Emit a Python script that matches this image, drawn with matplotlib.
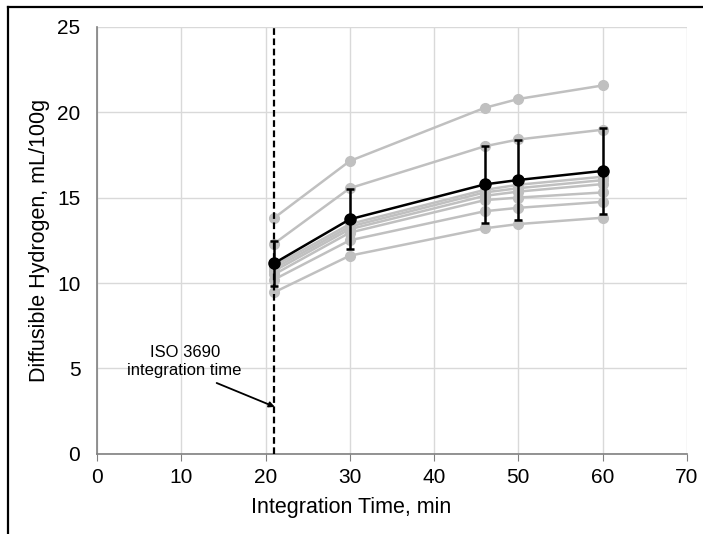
import matplotlib.pyplot as plt
from matplotlib.lines import Line2D

plt.rcParams['font.family'] = ['Liberation Sans', 'DejaVu Sans']

# Integration times (min)
times = [21, 30, 46, 50, 60]

# Individual samples (grey)
samples = [
    [13.8, 17.14, 20.25, 20.77, 21.56],
    [12.3, 15.55, 18.0, 18.4, 18.97],
    [11.0, 13.45, 15.45, 15.75, 16.22],
    [10.85, 13.3, 15.3, 15.55, 16.02],
    [10.7, 13.15, 15.1, 15.35, 15.79],
    [10.5, 12.95, 14.85, 15.0, 15.3],
    [10.2, 12.5, 14.2, 14.4, 14.75],
    [9.45, 11.6, 13.2, 13.45, 13.82],
]

# Mean and standard deviation (black)
mean_vals = [11.15, 13.73, 15.77, 16.03, 16.56]
err_vals = [1.3, 1.75, 2.27, 2.35, 2.52]

iso_time = 21

fig = plt.figure(figsize=(7.03, 5.34), dpi=100)
ax = fig.add_axes([0.138, 0.150, 0.839, 0.800])

for s in samples:
    ax.plot(times, s, color='#c0c0c0', lw=1.8, marker='o', ms=7, zorder=2)

ax.errorbar(times, mean_vals, yerr=err_vals, color='black', lw=1.8, marker='o',
            ms=8, elinewidth=1.8, capsize=3, capthick=1.8, zorder=4)

ax.axvline(iso_time, color='black', lw=1.6, ls=(0, (3, 1.6)), zorder=3)

# annotation text and arrow
ax.text(10.4, 5.4, 'ISO 3690\nintegration time', ha='center', va='center',
        fontsize=12, linespacing=1.25)
ax.annotate('', xy=(21.1, 2.75), xytext=(14.2, 4.15),
            arrowprops=dict(arrowstyle='-|>', color='black', lw=1.3,
                            mutation_scale=8, shrinkA=0, shrinkB=0))

ax.set_xlim(0, 70)
ax.set_ylim(0, 25)
ax.set_xticks(range(0, 71, 10))
ax.set_yticks(range(0, 26, 5))
ax.grid(True, color='#d9d9d9', lw=1)
ax.set_axisbelow(True)

for side in ['top', 'right']:
    ax.spines[side].set_visible(False)
for side in ['left', 'bottom']:
    ax.spines[side].set_color('#808080')
    ax.spines[side].set_linewidth(1.2)

ax.tick_params(axis='x', direction='out', length=5, color='#808080', labelsize=15, pad=5)
ax.tick_params(axis='y', length=0, labelsize=15, pad=12)

ax.set_xlabel('Integration Time, min', fontsize=15.5, va='center')
ax.set_ylabel('Diffusible Hydrogen, mL/100g', fontsize=15.5, va='center')
ax.xaxis.set_label_coords(0.5, 0.049, transform=fig.transFigure)
ax.yaxis.set_label_coords(0.056, 0.55, transform=fig.transFigure)

# frame of the picture (top and left edges only)
fig.add_artist(Line2D([0.0115, 1.0], [0.987, 0.987], transform=fig.transFigure,
                      color='black', lw=1.6))
fig.add_artist(Line2D([0.0115, 0.0115], [0.0, 0.987], transform=fig.transFigure,
                      color='black', lw=1.6))

fig.savefig('out.png', dpi=100)
